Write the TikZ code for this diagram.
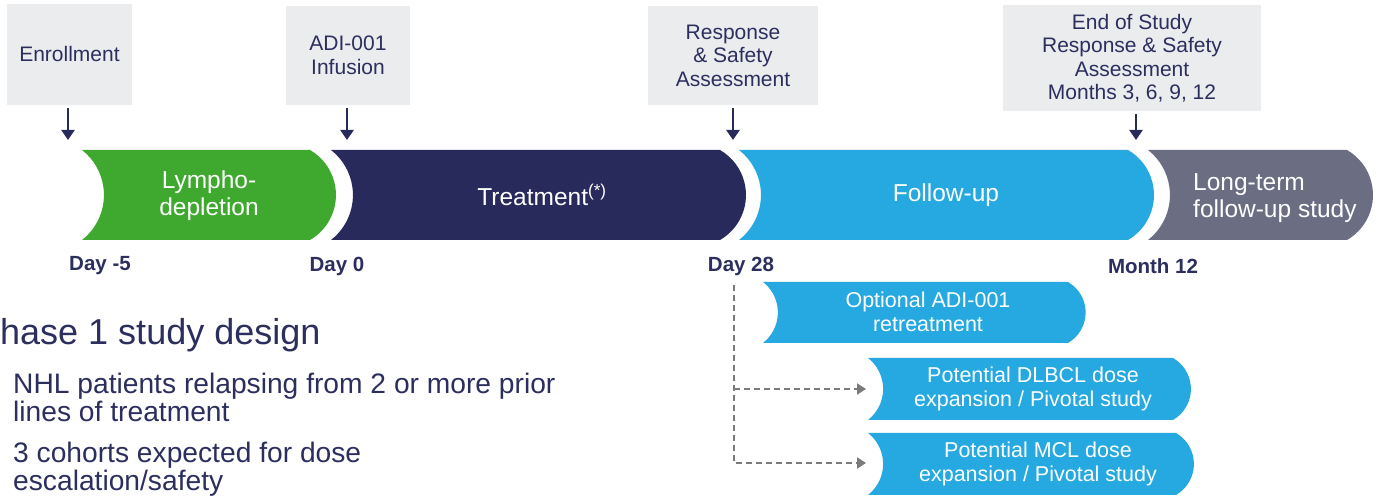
\documentclass[tikz,border=0pt]{standalone}
\usepackage{fontspec}
\setmainfont{Liberation Sans}
\usetikzlibrary{arrows.meta}
\definecolor{navy}{HTML}{282A5C}
\definecolor{txtnavy}{HTML}{2C2F5E}
\definecolor{lgreen}{HTML}{3FA92F}
\definecolor{lblue}{HTML}{25A9E0}
\definecolor{lgray}{HTML}{6B6D82}
\definecolor{boxgray}{HTML}{EBECEE}
\definecolor{dgray}{HTML}{7A7A7A}
\newcommand\phaseshape[5]{% L R B T colour
  \pgfmathsetmacro\phR{(#4-#3)/2/sin(60)}%
  \pgfmathsetmacro\phr{(#4-#3)/2/sin(52)}%
  \fill[#5] (#1,#4) -- (#2,#4) arc[start angle=60,end angle=-60,radius=\phR]
     -- (#1,#3) arc[start angle=-52,end angle=52,radius=\phr] -- cycle;}
\tikzset{
  topbox/.style={fill=boxgray, text=txtnavy, align=center, inner sep=0pt,
    font=\fontsize{21}{23.5}\selectfont},
  bartext/.style={text=white, align=center, inner sep=0pt,
    font=\fontsize{24.5}{27}\selectfont},
  subtext/.style={text=white, align=center, inner sep=0pt,
    font=\fontsize{21.5}{24}\selectfont},
  daylabel/.style={text=txtnavy, inner sep=0pt,
    font=\bfseries\fontsize{20.5}{24}\selectfont},
  bodytext/.style={text=txtnavy, align=left, inner sep=0pt,
    font=\fontsize{28.2}{28}\selectfont},
  narrow/.style={draw=navy, line width=2.4pt, shorten <=3pt,
    -{Triangle[width=13pt,length=10pt]}},
  dconn/.style={draw=dgray, line width=2pt, dash pattern=on 6pt off 4pt,
    -{Triangle[width=11pt,length=9pt]}}
}
\begin{document}
\begin{tikzpicture}[x=1pt,y=1pt]
\useasboundingbox (0,0) rectangle (1379,497);
\fill[white] (0,0) rectangle (1379,497);
% top boxes
\node[topbox, minimum width=125pt, minimum height=101pt] (enroll) at (69.5,442.5) {Enrollment};
\node[topbox, minimum width=124pt, minimum height=99pt] (infus) at (348,441.5) {ADI-001\\Infusion};
\node[topbox, minimum width=170pt, minimum height=99pt] (resp) at (733,441.5) {Response\\\& Safety\\Assessment};
\node[topbox, minimum width=258pt, minimum height=106pt] (eos) at (1132,439) {End of Study\\Response \& Safety\\Assessment\\Months 3, 6, 9, 12};
% phase bars
\phaseshape{82}{310}{257}{347}{lgreen}
\phaseshape{331}{720}{257}{347}{navy}
\phaseshape{739}{1128}{257}{347}{lblue}
\phaseshape{1148}{1347}{257}{347}{lgray}
\node[bartext] (lympho) at (209,301) {Lympho-\\depletion};
\node[bartext] (treat) at (542,302) {Treatment\textsuperscript{(*)}};
\node[bartext] (follow) at (946,302) {Follow-up};
\node[bartext, anchor=west, align=left] (longterm) at (1193,299) {Long-term\\follow-up study};
% arrows from boxes
\coordinate (a1) at (68,357);
\coordinate (a2) at (347,357);
\coordinate (a3) at (733,357);
\coordinate (a4) at (1136,357);
\draw[narrow] (enroll.south -| a1) -- (a1);
\draw[narrow] (infus.south -| a2) -- (a2);
\draw[narrow] (resp.south -| a3) -- (a3);
\draw[narrow] (eos.south -| a4) -- (a4);
% day labels
\node[daylabel] (dm5) at (100,231) {Day -5};
\node[daylabel] (d0) at (337,231) {Day 0};
\node[daylabel] (d28) at (741,231) {Day 28};
\node[daylabel] (m12) at (1153,231) {Month 12};
% lower option boxes
\phaseshape{763}{1068}{154}{215}{lblue}
\phaseshape{868}{1173}{77}{139}{lblue}
\phaseshape{868}{1176}{2}{64}{lblue}
\node[subtext] (retreat) at (928,185) {Optional ADI-001\\retreatment};
\node[subtext] (dlbcl) at (1033,108) {Potential DLBCL dose\\expansion / Pivotal study};
\node[subtext] (mcl) at (1038,33) {Potential MCL dose\\expansion / Pivotal study};
% dashed connectors
\coordinate (dtop) at (734,212);
\coordinate (dl) at (866,108);
\coordinate (ml) at (866,34);
\draw[dconn] (dtop) |- (ml);
\draw[dconn] (dtop |- dl) -- (dl);
% lower-left text
\node[text=txtnavy, inner sep=0pt, anchor=west, font=\fontsize{36}{40}\selectfont] (title) at (0,162) {hase 1 study design};
\node[bodytext, anchor=west] (b1) at (13,100) {NHL patients relapsing from 2 or more prior\\lines of treatment};
\node[bodytext, anchor=west] (b2) at (13,28) {3 cohorts expected for dose\\escalation/safety};
\end{tikzpicture}
\end{document}
